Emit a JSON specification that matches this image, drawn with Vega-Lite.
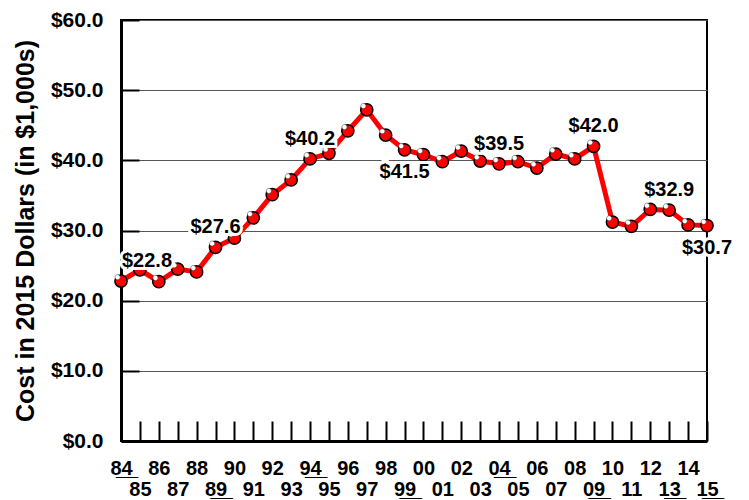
{
  "$schema": "https://vega.github.io/schema/vega-lite/v6.json",
  "width": 586,
  "height": 421,
  "autosize": {"type": "none"},
  "padding": {"left": 121, "top": 20, "right": 42, "bottom": 59},
  "background": "white",
  "config": {
    "view": {"stroke": "black", "strokeWidth": 2},
    "font": "Liberation Sans"
  },
  "data": {
    "values": [
      {"year": 1984, "value": 22.8, "lab": "first"},
      {"year": 1985, "value": 24.4, "lab": ""},
      {"year": 1986, "value": 22.7, "lab": ""},
      {"year": 1987, "value": 24.5, "lab": ""},
      {"year": 1988, "value": 24.1, "lab": ""},
      {"year": 1989, "value": 27.6, "lab": "above"},
      {"year": 1990, "value": 28.9, "lab": ""},
      {"year": 1991, "value": 31.8, "lab": ""},
      {"year": 1992, "value": 35.1, "lab": ""},
      {"year": 1993, "value": 37.2, "lab": ""},
      {"year": 1994, "value": 40.2, "lab": "above"},
      {"year": 1995, "value": 41.0, "lab": ""},
      {"year": 1996, "value": 44.2, "lab": ""},
      {"year": 1997, "value": 47.2, "lab": ""},
      {"year": 1998, "value": 43.6, "lab": ""},
      {"year": 1999, "value": 41.5, "lab": "below"},
      {"year": 2000, "value": 40.8, "lab": ""},
      {"year": 2001, "value": 39.8, "lab": ""},
      {"year": 2002, "value": 41.3, "lab": ""},
      {"year": 2003, "value": 39.9, "lab": ""},
      {"year": 2004, "value": 39.5, "lab": "above"},
      {"year": 2005, "value": 39.8, "lab": ""},
      {"year": 2006, "value": 38.9, "lab": ""},
      {"year": 2007, "value": 40.9, "lab": ""},
      {"year": 2008, "value": 40.2, "lab": ""},
      {"year": 2009, "value": 42.0, "lab": "above"},
      {"year": 2010, "value": 31.2, "lab": ""},
      {"year": 2011, "value": 30.6, "lab": ""},
      {"year": 2012, "value": 33.0, "lab": ""},
      {"year": 2013, "value": 32.9, "lab": "above"},
      {"year": 2014, "value": 30.8, "lab": ""},
      {"year": 2015, "value": 30.7, "lab": "below"}
    ]
  },
  "encoding": {
    "x": {
      "field": "year",
      "type": "quantitative",
      "scale": {"domain": [1984, 2015], "nice": false, "zero": false},
      "axis": {
        "title": null,
        "values": [1984,1985,1986,1987,1988,1989,1990,1991,1992,1993,1994,1995,1996,1997,1998,1999,2000,2001,2002,2003,2004,2005,2006,2007,2008,2009,2010,2011,2012,2013,2014,2015],
        "grid": false,
        "domainColor": "black",
        "domainWidth": 3,
        "tickColor": "black",
        "tickWidth": 2,
        "tickSize": -20,
        "labelPadding": 37,
        "labelFont": "Liberation Sans",
        "labelFontWeight": "bold",
        "labelFontSize": 20,
        "labelColor": "black",
        "labelLineHeight": 21,
        "labelBaseline": "top",
        "labelFlush": false,
        "labelOverlap": false,
        "labelExpr": "(datum.value % 2 == 0) ? [(indexof([1984,1989,1994,1999,2004,2009,2013,2015], datum.value) >= 0) ? (slice(toString(datum.value),2,3) + '̲' + slice(toString(datum.value),3,4) + '̲') : slice(toString(datum.value),2), ''] : ['', (indexof([1984,1989,1994,1999,2004,2009,2013,2015], datum.value) >= 0) ? (slice(toString(datum.value),2,3) + '̲' + slice(toString(datum.value),3,4) + '̲') : slice(toString(datum.value),2)]"
      }
    },
    "y": {
      "field": "value",
      "type": "quantitative",
      "scale": {"domain": [0, 60], "nice": false},
      "axis": {
        "title": "Cost in 2015 Dollars (in $1,000s)",
        "titleFont": "Liberation Sans",
        "titleFontSize": 25,
        "titleFontWeight": "bold",
        "titleColor": "black",
        "titlePadding": 12,
        "values": [0, 10, 20, 30, 40, 50, 60],
        "format": "$.1f",
        "grid": true,
        "gridColor": "#555",
        "gridWidth": 1,
        "domainColor": "black",
        "domainWidth": 3,
        "tickColor": "black",
        "tickWidth": 2,
        "tickSize": -18,
        "labelPadding": 36,
        "labelFont": "Liberation Sans",
        "labelFontWeight": "bold",
        "labelFontSize": 21,
        "labelColor": "black"
      }
    }
  },
  "layer": [
    {
      "mark": {"type": "line", "color": "#ff0000", "strokeWidth": 5}
    },
    {
      "mark": {"type": "point", "shape": "circle", "filled": true, "fill": "#ff0000", "stroke": "black", "strokeWidth": 1.5, "size": 150, "opacity": 1}
    },
    {
      "mark": {"type": "point", "shape": "M -0.55 -0.2 A 0.42 0.42 0 1 1 -0.5499 -0.2 Z", "filled": true, "fill": "white", "stroke": "#333", "strokeWidth": 0.5, "size": 150, "opacity": 1}
    },
    {
      "transform": [{"filter": "datum.lab == 'above'"}],
      "mark": {"type": "text", "baseline": "bottom", "align": "center", "dy": -10, "fontSize": 20, "fontWeight": "bold", "font": "Liberation Sans", "stroke": "white", "strokeWidth": 6, "fill": "white"},
      "encoding": {"text": {"field": "value", "format": "$.1f"}}
    },
    {
      "transform": [{"filter": "datum.lab == 'above'"}],
      "mark": {"type": "text", "baseline": "bottom", "align": "center", "dy": -10, "fontSize": 20, "fontWeight": "bold", "font": "Liberation Sans", "fill": "black"},
      "encoding": {"text": {"field": "value", "format": "$.1f"}}
    },
    {
      "transform": [{"filter": "datum.lab == 'below'"}],
      "mark": {"type": "text", "baseline": "top", "align": "center", "dy": 12, "fontSize": 20, "fontWeight": "bold", "font": "Liberation Sans", "stroke": "white", "strokeWidth": 6, "fill": "white"},
      "encoding": {"text": {"field": "value", "format": "$.1f"}}
    },
    {
      "transform": [{"filter": "datum.lab == 'below'"}],
      "mark": {"type": "text", "baseline": "top", "align": "center", "dy": 12, "fontSize": 20, "fontWeight": "bold", "font": "Liberation Sans", "fill": "black"},
      "encoding": {"text": {"field": "value", "format": "$.1f"}}
    },
    {
      "transform": [{"filter": "datum.lab == 'first'"}],
      "mark": {"type": "text", "baseline": "bottom", "align": "left", "dx": 1, "dy": -10, "fontSize": 20, "fontWeight": "bold", "font": "Liberation Sans", "stroke": "white", "strokeWidth": 6, "fill": "white"},
      "encoding": {"text": {"field": "value", "format": "$.1f"}}
    },
    {
      "transform": [{"filter": "datum.lab == 'first'"}],
      "mark": {"type": "text", "baseline": "bottom", "align": "left", "dx": 1, "dy": -10, "fontSize": 20, "fontWeight": "bold", "font": "Liberation Sans", "fill": "black"},
      "encoding": {"text": {"field": "value", "format": "$.1f"}}
    }
  ]
}
